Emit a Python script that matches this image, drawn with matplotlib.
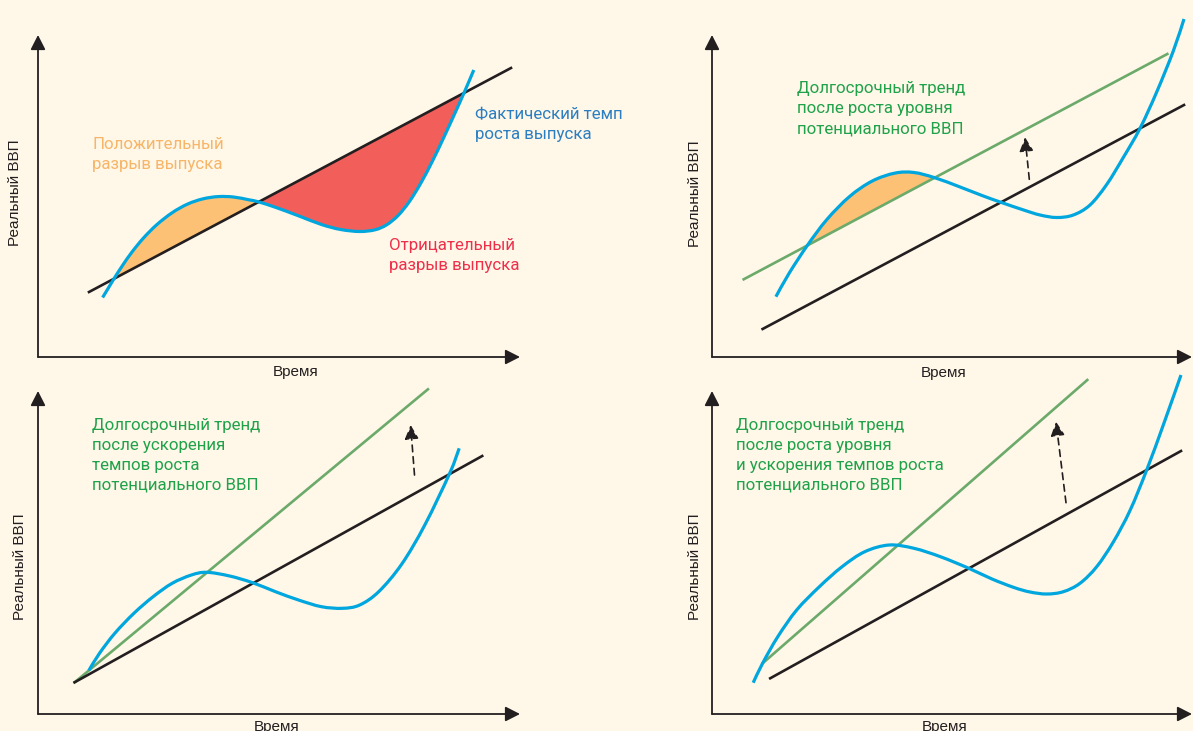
import matplotlib
matplotlib.use("Agg")
import matplotlib.pyplot as plt
from matplotlib.path import Path
from matplotlib.patches import PathPatch

# ---------------- data (schematic values, panel units) ----------------
# Panel 1: output gap
p1_trend_x = [51, 473]
p1_trend_y = [65, 289]
p1_actual_x = [64.6, 71.1, 76, 84.5, 94, 105.5, 118.9, 134.2, 149.5, 164.8, 180.1, 195.4, 210.8,
               220.7, 237.5, 260.5, 283.5, 302.6, 321.7, 337, 348.5, 360, 371.5, 383, 394.5,
               405.9, 417.4, 426.2, 435.8]
p1_actual_y = [59.5, 70.2, 78.3, 91.5, 105, 119, 132.4, 144.3, 152.9, 158.1, 160.4, 160, 157.2,
               155.1, 149.7, 141.2, 132.5, 127.5, 125.5, 127.2, 132.1, 141.4, 155.6, 174.2, 196,
               219.8, 244.9, 264.5, 287]
p1_pos_gap = (2, 13)    # index range of actual series forming the positive gap
p1_neg_gap = (13, 27)   # index range forming the negative gap

# Panel 2: level shift of potential GDP
p2_trend_x = [50.6, 472]
p2_trend_y = [28, 252]
p2_new_x = [31.7, 455.3]
p2_new_y = [77.7, 303]
p2_actual_x = [63.9, 77.1, 95.3, 114.9, 137.6, 160.3, 183, 201.9, 222.7, 247.3, 270, 288.9,
               311.6, 328, 344.7, 361.3, 378, 394.7, 411.3, 428, 444.7, 461.3, 472]
p2_actual_y = [60.3, 83.7, 111.5, 137.5, 160.5, 176, 183.9, 184.5, 179.3, 170.3, 161.5, 154.7,
               147, 142, 139.5, 142, 152, 172.5, 199.5, 228.6, 265, 306, 338]
p2_pos_gap = (2, 8)
p2_shift_x = [317.3, 313]
p2_shift_y = [177.7, 219.7]

# Panel 3: faster growth of potential GDP
p3_trend_x = [36.6, 444.2]
p3_trend_y = [31.7, 258]
p3_new_x = [36.6, 389.9]
p3_new_y = [31.7, 324.7]
p3_actual_x = [50.8, 61.5, 76.8, 95.9, 115.1, 134.2, 153.4, 168.7, 191.6, 214.6, 237.5, 260.5,
               283.5, 304.5, 321.7, 340.9, 363.8, 386.8, 411.7, 421.2]
p3_actual_y = [43.5, 60.7, 80.7, 100.7, 117.3, 130.7, 139, 141.7, 138, 131.3, 122.3, 114,
               107.3, 105.7, 109, 122.5, 150, 189, 240.7, 265.7]
p3_shift_x = [376.5, 372.6]
p3_shift_y = [239, 289]

# Panel 4: level shift and faster growth
p4_trend_x = [58.2, 469]
p4_trend_y = [35.7, 263]
p4_new_x = [50.6, 375.3]
p4_new_y = [50.7, 334]
p4_actual_x = [41.2, 50.6, 65.8, 84.7, 107.4, 130.1, 152.8, 177.3, 201.9, 228.4, 256.8, 280,
               302, 318, 334.7, 351.3, 368, 384.7, 401.3, 418, 434.7, 451.3, 469]
p4_actual_y = [31.3, 50.7, 77.3, 104, 127.3, 147.3, 162.3, 169, 165.7, 157.3, 145.7, 135,
               126.5, 122, 120, 122.3, 130.7, 147.3, 172, 203.5, 244, 289, 339]
p4_shift_x = [354, 344]
p4_shift_y = [211.3, 292.3]

# text
ylabel = "Реальный ВВП"
xlabel = "Время"
p1_pos_label = ["Положительный", "разрыв выпуска"]
p1_neg_label = ["Отрицательный", "разрыв выпуска"]
p1_act_label = ["Фактический темп", "роста выпуска"]
p2_label = ["Долгосрочный тренд", "после роста уровня", "потенциального ВВП"]
p3_label = ["Долгосрочный тренд", "после ускорения", "темпов роста", "потенциального ВВП"]
p4_label = ["Долгосрочный тренд", "после роста уровня", "и ускорения темпов роста",
            "потенциального ВВП"]

# ---------------- styles ----------------
BG = "#FFF7E8"
BLACK = "#231F20"
BLUE = "#00A6DE"
GREEN = "#6BAA6A"
ORANGE_FILL = "#FDC176"
RED_FILL = "#F25F5A"
ORANGE_TXT = "#F7B567"
RED_TXT = "#EE2F4A"
BLUE_TXT = "#2B7EC1"
GREEN_TXT = "#1FA24A"
LABEL_FONT = "Roboto"
AXIS_FONT = "Liberation Sans"
FIG_W, FIG_H = 1193, 731

fig = plt.figure(figsize=(FIG_W / 100, FIG_H / 100), dpi=100, facecolor=BG)


def smooth_path(xs, ys, i0=0, i1=None, close=False):
    """Catmull-Rom curve through the data points, drawn as cubic Bezier segments."""
    n = len(xs)
    if i1 is None:
        i1 = n - 1
    pts = list(zip(xs, ys))

    def p(k):
        return pts[min(max(k, 0), n - 1)]

    verts = [p(i0)]
    codes = [Path.MOVETO]
    for i in range(i0, i1):
        p0, p1, p2, p3 = p(i - 1), p(i), p(i + 1), p(i + 2)
        c1 = (p1[0] + (p2[0] - p0[0]) / 6, p1[1] + (p2[1] - p0[1]) / 6)
        c2 = (p2[0] - (p3[0] - p1[0]) / 6, p2[1] - (p3[1] - p1[1]) / 6)
        verts += [c1, c2, p2]
        codes += [Path.CURVE4] * 3
    if close:
        verts.append(p(i0))
        codes.append(Path.CLOSEPOLY)
    return Path(verts, codes)


def make_panel(ox, oy, w, h):
    ax = fig.add_axes([ox / FIG_W, (FIG_H - oy) / FIG_H, w / FIG_W, h / FIG_H])
    ax.set_xlim(0, w)
    ax.set_ylim(0, h)
    ax.axis("off")
    ax.patch.set_alpha(0)
    arrow = dict(arrowstyle="-|>,head_length=0.55,head_width=0.28", color=BLACK, lw=1.3,
                 shrinkA=0, shrinkB=0, mutation_scale=16)
    ax.annotate("", xy=(w, 0), xytext=(0, 0), arrowprops=arrow, annotation_clip=False)
    ax.annotate("", xy=(0, h), xytext=(0, 0), arrowprops=arrow, annotation_clip=False)
    return ax


def actual_curve(ax, xs, ys):
    ax.add_patch(PathPatch(smooth_path(xs, ys), facecolor="none", edgecolor=BLUE, lw=2.3,
                           clip_on=False, zorder=3))


def gap_fill(ax, xs, ys, rng, color):
    ax.add_patch(PathPatch(smooth_path(xs, ys, rng[0], rng[1], close=True), facecolor=color,
                           edgecolor="none", lw=0, clip_on=False, zorder=1))


def axis_labels(ax, yl_x, yl_y, xl_x, xl_y):
    ax.text(yl_x, yl_y, ylabel, rotation=90, ha="center", va="center", fontsize=11,
            family=AXIS_FONT, color=BLACK, clip_on=False)
    ax.text(xl_x, xl_y, xlabel, ha="center", va="baseline", fontsize=11,
            family=AXIS_FONT, color=BLACK, clip_on=False)


def lines_text(ax, x, y0, lines, color, step=20):
    for i, s in enumerate(lines):
        ax.text(x, y0 - i * step, s, ha="left", va="baseline", fontsize=12.2,
                family=LABEL_FONT, color=color, clip_on=False)


def shift_arrow(ax, xs, ys):
    ax.annotate("", xy=(xs[1], ys[1]), xytext=(xs[0], ys[0]), annotation_clip=False,
                arrowprops=dict(arrowstyle="-|>,head_length=0.6,head_width=0.3",
                                color=BLACK, lw=1.2, linestyle=(0, (4, 3)),
                                shrinkA=0, shrinkB=0, mutation_scale=14))


LW_TREND = 1.9

# ---------- Panel 1 ----------
ax1 = make_panel(38, 357, 482, 322)
gap_fill(ax1, p1_actual_x, p1_actual_y, p1_pos_gap, ORANGE_FILL)
gap_fill(ax1, p1_actual_x, p1_actual_y, p1_neg_gap, RED_FILL)
ax1.plot(p1_trend_x, p1_trend_y, color=BLACK, lw=LW_TREND, clip_on=False, zorder=2)
actual_curve(ax1, p1_actual_x, p1_actual_y)
lines_text(ax1, 54, 207.7, p1_pos_label, ORANGE_TXT)
lines_text(ax1, 437, 238, p1_act_label, BLUE_TXT)
lines_text(ax1, 351, 107, p1_neg_label, RED_TXT)
axis_labels(ax1, -22.7, 164, 258, -19)

# ---------- Panel 2 ----------
ax2 = make_panel(712, 357, 480, 322)
gap_fill(ax2, p2_actual_x, p2_actual_y, p2_pos_gap, ORANGE_FILL)
ax2.plot(p2_new_x, p2_new_y, color=GREEN, lw=LW_TREND, clip_on=False, zorder=2)
ax2.plot(p2_trend_x, p2_trend_y, color=BLACK, lw=LW_TREND, clip_on=False, zorder=2)
actual_curve(ax2, p2_actual_x, p2_actual_y)
shift_arrow(ax2, p2_shift_x, p2_shift_y)
lines_text(ax2, 85, 263.5, p2_label, GREEN_TXT)
axis_labels(ax2, -17, 163, 232, -20)

# ---------- Panel 3 ----------
ax3 = make_panel(38, 714, 482, 323)
ax3.plot(p3_new_x, p3_new_y, color=GREEN, lw=LW_TREND, clip_on=False, zorder=2)
ax3.plot(p3_trend_x, p3_trend_y, color=BLACK, lw=LW_TREND, clip_on=False, zorder=2)
actual_curve(ax3, p3_actual_x, p3_actual_y)
shift_arrow(ax3, p3_shift_x, p3_shift_y)
lines_text(ax3, 54, 284, p3_label, GREEN_TXT)
axis_labels(ax3, -17.5, 147.3, 238.5, -17)

# ---------- Panel 4 ----------
ax4 = make_panel(712, 714, 480, 323)
ax4.plot(p4_new_x, p4_new_y, color=GREEN, lw=LW_TREND, clip_on=False, zorder=2)
ax4.plot(p4_trend_x, p4_trend_y, color=BLACK, lw=LW_TREND, clip_on=False, zorder=2)
actual_curve(ax4, p4_actual_x, p4_actual_y)
shift_arrow(ax4, p4_shift_x, p4_shift_y)
lines_text(ax4, 24, 284, p4_label, GREEN_TXT)
axis_labels(ax4, -17, 147.3, 233, -17)

fig.savefig("out.png", dpi=100, facecolor=BG)
